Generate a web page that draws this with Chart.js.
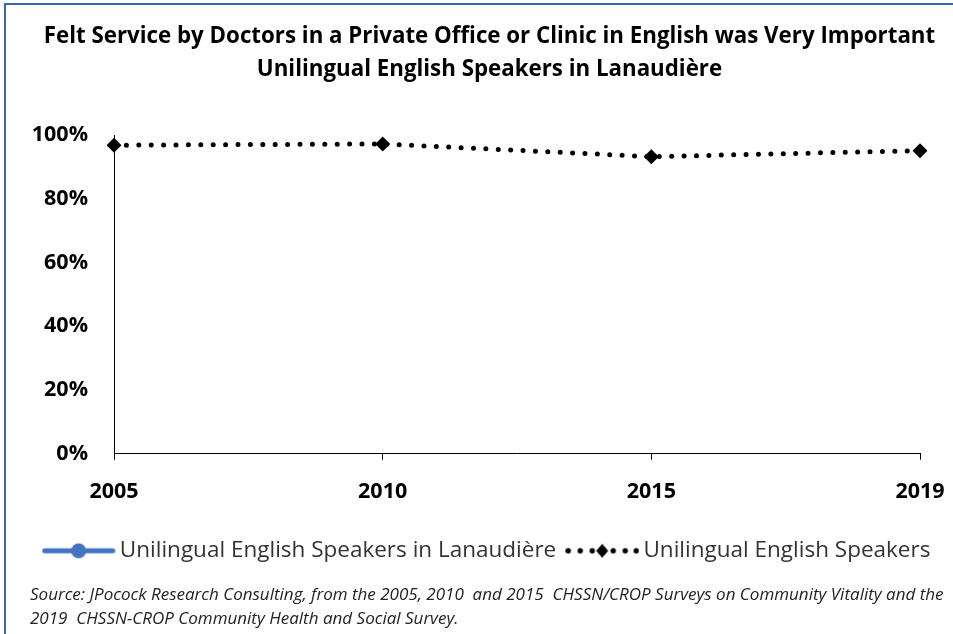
<!DOCTYPE html>
<html>
<head>
<meta charset="utf-8">
<script src="https://cdn.jsdelivr.net/npm/chart.js@4.4.1/dist/chart.umd.min.js"></script>
<style>
  html, body { margin: 0; padding: 0; background: #fff; }
  #wrap { position: relative; width: 953px; height: 634px; }
  #frame {
    position: absolute; left: 4px; top: 3px; right: 0; bottom: 0;
    border-left: 2px solid #3b64ae; border-top: 2px solid #3b64ae;
    pointer-events: none;
  }
  canvas { position: absolute; left: 0; top: 0; }
</style>
</head>
<body>
<div id="wrap">
  <canvas id="chart" width="953" height="634"></canvas>
  <div id="frame"></div>
</div>
<script>
// data
const years = ['2005', '2010', '2015', '2019'];
const lanaudiere = [null, null, null, null];   // no values plotted for this series
const unilingual = [96.8, 97.2, 93.2, 95.1];
const yTicks = [0, 20, 40, 60, 80, 100];

const titleLines = [
    'Felt Service by Doctors in a Private Office or Clinic in English was Very Important',
    'Unilingual English Speakers in Lanaudière'
];
const sourceLines = [
    'Source: JPocock Research Consulting, from the 2005, 2010  and 2015  CHSSN/CROP Surveys on Community Vitality and the',
    '2019  CHSSN-CROP Community Health and Social Survey.'
];
const seriesNames = ['Unilingual English Speakers in Lanaudière', 'Unilingual English Speakers'];

const BLUE = '#4472c4';
const FONT = '"Open Sans", Lato, sans-serif';

// legend keys: line + marker, like the Excel legend
// the canvas hangs a bit left of the 60px legend box so the key sits close to its text
function legendIcon(kind) {
    const c = document.createElement('canvas');
    c.width = 74; c.height = 20;
    const g = c.getContext('2d');
    if (kind === 'solid') {
        g.strokeStyle = BLUE;
        g.lineWidth = 5;
        g.lineCap = 'round';
        g.beginPath(); g.moveTo(3, 10); g.lineTo(71, 10); g.stroke();
        g.fillStyle = BLUE;
        g.beginPath(); g.arc(37, 10, 7.5, 0, Math.PI * 2); g.fill();
    } else {
        g.fillStyle = '#000';
        [3, 15, 27, 48, 60, 71].forEach(x => {
            g.beginPath(); g.arc(x, 10, 2.7, 0, Math.PI * 2); g.fill();
        });
        g.beginPath();
        g.moveTo(37, 3); g.lineTo(43, 10); g.lineTo(37, 17); g.lineTo(31, 10);
        g.closePath(); g.fill();
    }
    return c;
}
const icons = [legendIcon('solid'), legendIcon('dotted')];

new Chart(document.getElementById('chart'), {
    type: 'line',
    data: {
        labels: years,
        datasets: [{
            label: seriesNames[0],
            data: lanaudiere,
            borderColor: BLUE,
            backgroundColor: BLUE,
            borderWidth: 5,
            pointRadius: 7
        }, {
            label: seriesNames[1],
            data: unilingual,
            borderColor: '#000',
            backgroundColor: '#000',
            borderWidth: 5,
            borderDash: [0, 12.4],
            borderCapStyle: 'round',
            pointStyle: 'rectRot',
            pointRadius: 7.5,
            pointBorderWidth: 0,
            tension: 0
        }]
    },
    options: {
        responsive: false,
        animation: false,
        layout: { padding: { left: 30, right: 4, top: 0, bottom: 0 } },
        plugins: {
            title: {
                display: true,
                text: titleLines,
                color: '#000',
                font: { family: FONT, size: 22.3, weight: 'bold', lineHeight: 1.48 },
                padding: { top: 20, bottom: 49 }
            },
            subtitle: {
                display: true,
                position: 'bottom',
                align: 'start',
                text: sourceLines,
                color: '#222',
                font: { family: FONT, size: 17, style: 'italic', lineHeight: 1.41 },
                padding: { top: 11, bottom: 3 }
            },
            legend: {
                position: 'bottom',
                labels: {
                    usePointStyle: true,
                    pointStyleWidth: 60,
                    color: '#333',
                    font: { family: FONT, size: 22.5 },
                    padding: 16,
                    generateLabels: chart => chart.data.datasets.map((ds, i) => ({
                        text: ds.label,
                        pointStyle: icons[i],
                        fillStyle: ds.borderColor,
                        strokeStyle: ds.borderColor,
                        lineWidth: 0,
                        hidden: false,
                        datasetIndex: i,
                        fontColor: '#333'
                    }))
                }
            },
            tooltip: { enabled: false }
        },
        scales: {
            x: {
                offset: false,
                grid: { display: true, drawOnChartArea: false, drawTicks: true, tickLength: 6, color: '#000' },
                border: { display: true, color: '#000', width: 1 },
                ticks: {
                    color: '#000',
                    padding: 19,
                    font: { family: FONT, size: 21.5, weight: 'bold' }
                },
                afterFit: axis => { axis.paddingLeft = 0; axis.paddingRight = 33; }
            },
            y: {
                min: 0,
                max: 100,
                afterBuildTicks: axis => { axis.ticks = yTicks.map(v => ({ value: v })); },
                afterFit: axis => { axis.width = 84; },
                grid: { display: false, drawTicks: false },
                border: { display: true, color: '#000', width: 1 },
                ticks: {
                    color: '#000',
                    padding: 26,
                    font: { family: FONT, size: 21.5, weight: 'bold' },
                    callback: v => v + '%'
                }
            }
        }
    }
});
</script>
</body>
</html>
